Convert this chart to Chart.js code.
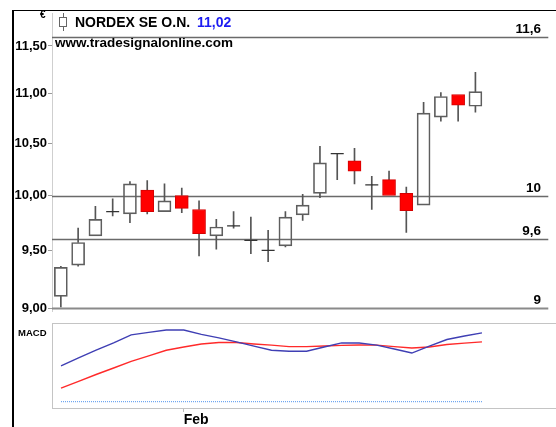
<!DOCTYPE html>
<html>
<head>
<meta charset="utf-8">
<script src="https://cdn.jsdelivr.net/npm/chart.js@4.4.1/dist/chart.umd.min.js"></script>
<style>
  body { margin:0; width:556px; height:427px; background:#fff; overflow:hidden; position:relative;
         font-family:"Liberation Sans", Arial, sans-serif; }
  #frame { position:absolute; left:12px; top:10px; right:0; bottom:0; border-left:2px solid #000; border-top:1px solid #000; }
  canvas { position:absolute; left:0; }
  #price { top:0; }
  #macd { top:316px; }
  .lbl { position:absolute; font-weight:bold; white-space:nowrap; }
  #icon { position:absolute; left:59px; top:17px; width:6px; height:8px; border:1px solid #666; background:#fff; }
  #icon:before, #icon:after { content:""; position:absolute; left:3px; width:1px; height:4px; background:#666; }
  #icon:before { top:-5px; }
  #icon:after { bottom:-5px; }
</style>
</head>
<body>
<div id="frame"></div>
<canvas id="price" width="556" height="320"></canvas>
<canvas id="macd" width="556" height="111"></canvas>
<div class="lbl" style="left:40px; top:9px; font-size:10px; line-height:12px;">€</div>
<div id="icon"></div>
<div class="lbl" style="left:75px; top:14px; font-size:14px; line-height:16px;">NORDEX SE O.N.</div>
<div class="lbl" style="left:197px; top:14px; font-size:14px; line-height:16px; color:#1c1cf2;">11,02</div>
<div class="lbl" style="left:55px; top:35px; font-size:13.5px; line-height:16px;">www.tradesignalonline.com</div>
<div class="lbl" style="left:18px; top:327px; font-size:9.5px; line-height:12px;">MACD</div>
<script>
// daily candles, NORDEX SE O.N.
const dates = ['23.01', '24.01', '25.01', '28.01', '29.01', '30.01', '31.01', '01.02', '04.02', '05.02',
  '06.02', '07.02', '08.02', '11.02', '12.02', '13.02', '14.02', '15.02', '18.02', '19.02',
  '20.02', '21.02', '22.02', '25.02', '26.02'];
const open  = [9.10, 9.37, 9.63, 9.85, 9.83, 10.05, 9.85, 10.00, 9.87, 9.63, 9.72, 9.59, 9.50, 9.54, 9.82, 10.02, 10.40, 10.33, 10.10, 10.15, 10.02, 9.91, 10.76, 10.99, 10.87];
const high  = [9.36, 9.70, 9.90, 9.97, 10.13, 10.14, 10.11, 10.07, 9.95, 9.78, 9.85, 9.80, 9.68, 9.85, 10.01, 10.47, 10.40, 10.45, 10.18, 10.23, 10.08, 10.91, 11.01, 10.99, 11.22];
const low   = [9.01, 9.36, 9.63, 9.81, 9.75, 9.83, 9.85, 9.84, 9.45, 9.51, 9.70, 9.47, 9.40, 9.53, 9.77, 9.98, 10.15, 10.11, 9.87, 10.00, 9.66, 9.91, 10.72, 10.72, 10.81];
const close = [9.35, 9.57, 9.78, 9.85, 10.11, 9.85, 9.95, 9.88, 9.65, 9.71, 9.72, 9.59, 9.50, 9.80, 9.91, 10.31, 10.40, 10.23, 10.10, 10.00, 9.86, 10.80, 10.97, 10.88, 11.02];

// MACD panel
const macdLine   = [0.177, 0.216, 0.254, 0.290, 0.330, 0.342, 0.354, 0.354, 0.332, 0.315, 0.295, 0.274, 0.254, 0.249, 0.249, 0.270, 0.290, 0.290, 0.279, 0.260, 0.240, 0.274, 0.307, 0.324, 0.340];
const signalLine = [0.067, 0.100, 0.134, 0.166, 0.199, 0.226, 0.254, 0.270, 0.285, 0.292, 0.292, 0.285, 0.279, 0.272, 0.272, 0.275, 0.278, 0.280, 0.279, 0.272, 0.265, 0.270, 0.282, 0.289, 0.295];
const macdZero = 0;

// axis ticks and level lines
const priceTicks = [9, 9.5, 10, 10.5, 11, 11.5];
const levels = [11.6, 10, 9.6, 9];
const levelLabels = ['11,6', '10', '9,6', '9'];
const monthTicks = [7];
const monthLabels = ['Feb'];

const FONT = '"Liberation Sans", Arial, sans-serif';
const X_MIN = -0.513, X_MAX = 28.22;

const idx = dates.map((d, i) => i);
const bodies = idx.map(i => ({ x: i, y: open[i] === close[i] ? null : [open[i], close[i]] }));
const upperWicks = idx.map(i => {
  const top = Math.max(open[i], close[i]);
  return { x: i, y: high[i] > top ? [top, high[i]] : null };
});
const lowerWicks = idx.map(i => {
  const bot = Math.min(open[i], close[i]);
  return { x: i, y: low[i] < bot ? [low[i], bot] : null };
});
const dojis = idx.map(i => ({ x: i, y: open[i] === close[i] ? open[i] : null }));
const bodyFill = idx.map(i => close[i] > open[i] ? 'rgba(255,255,255,0)' : '#ff0000');
const bodyBorder = idx.map(i => close[i] > open[i] ? '#5e5e5e' : '#d40000');

// horizontal level lines with their labels on the right
const levelPlugin = {
  id: 'levels',
  beforeDatasetsDraw(chart) {
    const { ctx, chartArea } = chart;
    const y = chart.scales.y;
    ctx.save();
    levels.forEach((v, k) => {
      const py = Math.round(y.getPixelForValue(v)) + 0.5;
      ctx.strokeStyle = k === levels.length - 1 ? '#8a8a8a' : '#6a6a6a';
      ctx.lineWidth = k === levels.length - 1 ? 2 : 1.5;
      ctx.beginPath();
      ctx.moveTo(chartArea.left, py);
      ctx.lineTo(chartArea.right, py);
      ctx.stroke();
      ctx.fillStyle = '#000';
      ctx.font = 'bold 13.5px ' + FONT;
      ctx.textAlign = 'right';
      ctx.textBaseline = 'alphabetic';
      ctx.fillText(levelLabels[k], 541, py - 5);
    });
    ctx.restore();
  }
};

new Chart(document.getElementById('price'), {
  type: 'bar',
  data: {
    datasets: [
      { type: 'line', data: dojis, showLine: false, pointStyle: 'line', pointRadius: 6.5,
        pointBorderColor: '#333', pointBorderWidth: 1.2, order: 0 },
      { data: bodies, backgroundColor: bodyFill, borderColor: bodyBorder, borderWidth: 1,
        barThickness: 13, grouped: false, borderSkipped: false, order: 1 },
      { data: upperWicks, backgroundColor: '#555', barThickness: 1, grouped: false, order: 2 },
      { data: lowerWicks, backgroundColor: '#555', barThickness: 1, grouped: false, order: 3 }
    ]
  },
  options: {
    responsive: false,
    animation: false,
    layout: { padding: { left: 13, top: 13, right: 0, bottom: 8 } },
    plugins: { legend: { display: false }, tooltip: { enabled: false } },
    scales: {
      x: { type: 'linear', min: X_MIN, max: X_MAX, offset: false, display: false },
      y: {
        type: 'logarithmic',
        min: 8.975, max: 11.86,
        afterFit: s => { s.width = 39; },
        afterBuildTicks: s => { s.ticks = priceTicks.map(v => ({ value: v })); },
        grid: { drawOnChartArea: false, tickLength: 4, color: '#9a9a9a' },
        border: { display: true, color: '#cfcfcf', width: 1 },
        ticks: {
          padding: 1,
          color: '#000',
          font: { family: FONT, size: 13, weight: 'bold' },
          callback: v => Number(v).toFixed(2).replace('.', ',')
        }
      }
    }
  },
  plugins: [levelPlugin]
});

// frame around the MACD panel
const boxPlugin = {
  id: 'box',
  beforeDatasetsDraw(chart) {
    const { ctx, chartArea } = chart;
    ctx.save();
    ctx.strokeStyle = '#c4c4c4';
    ctx.lineWidth = 1;
    ctx.strokeRect(chartArea.left + 0.5, chartArea.top + 0.5, chartArea.right - chartArea.left + 2, chartArea.bottom - chartArea.top);
    ctx.restore();
  }
};

new Chart(document.getElementById('macd'), {
  type: 'line',
  data: {
    datasets: [
      { data: idx.map(i => ({ x: i, y: macdLine[i] })), borderColor: '#3f3fb4', borderWidth: 1.4, pointRadius: 0, tension: 0 },
      { data: idx.map(i => ({ x: i, y: signalLine[i] })), borderColor: '#ff2a2a', borderWidth: 1.4, pointRadius: 0, tension: 0 },
      { data: [{ x: 0, y: macdZero }, { x: idx.length - 1, y: macdZero }], borderColor: '#6fa6f0',
        borderWidth: 1.2, borderDash: [1, 1], pointRadius: 0 }
    ]
  },
  options: {
    responsive: false,
    animation: false,
    layout: { padding: { left: 52, top: 7, right: 0, bottom: 0 } },
    plugins: { legend: { display: false }, tooltip: { enabled: false } },
    scales: {
      x: {
        type: 'linear', min: X_MIN, max: X_MAX, offset: false,
        afterFit: s => { s.height = 19; },
        afterBuildTicks: s => { s.ticks = monthTicks.map(v => ({ value: v })); },
        grid: { drawOnChartArea: false, tickLength: 4, color: '#bbb' },
        border: { display: false },
        ticks: {
          align: 'start', padding: 0, maxRotation: 0, autoSkip: false, color: '#000',
          font: { family: FONT, size: 14, weight: 'bold' },
          callback: v => monthLabels[monthTicks.indexOf(v)]
        }
      },
      y: { type: 'linear', min: -0.0315, max: 0.3885, display: false }
    }
  },
  plugins: [boxPlugin]
});
</script>
</body>
</html>
